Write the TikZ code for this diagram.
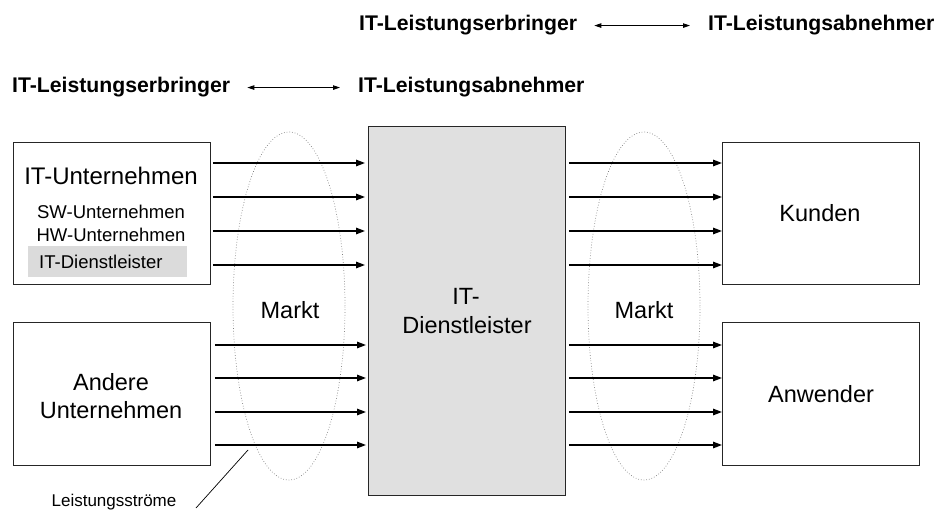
\documentclass[tikz,border=0pt]{standalone}
\usepackage{fontspec}
\setmainfont{Liberation Sans}
\usetikzlibrary{arrows.meta,shapes.geometric}
\begin{document}
\begin{tikzpicture}[x=1pt,y=-1pt,
  box/.style={draw=black!85, line width=0.9pt, inner sep=0, anchor=north west},
  big/.style={font=\fontsize{23.5}{28}\selectfont, inner sep=0},
  mid/.style={font=\fontsize{18.5}{22}\selectfont, inner sep=0},
  head/.style={font=\fontsize{21.2}{25}\bfseries\selectfont, inner sep=0, anchor=base west},
  flow/.style={line width=1.4pt, -{Triangle[length=9pt,width=6.5pt]}},
  pair/.style={line width=0.9pt, {Triangle[length=7pt,width=4.5pt]}-{Triangle[length=7pt,width=4.5pt]}},
  market/.style={ellipse, draw=black!50, dotted, line width=0.7pt,
                 minimum width=112pt, minimum height=348pt, inner sep=0}
]
\useasboundingbox (0,0) rectangle (937,521);

% headings
\node[head] (e1) at (359,31) {IT-Leistungserbringer};
\node[head] (a1) at (708,31) {IT-Leistungsabnehmer};
\draw[pair, shorten <=17pt, shorten >=18pt] (e1.east) -- (a1.west);
\node[head] (e2) at (12,93) {IT-Leistungserbringer};
\node[head] (a2) at (358,93) {IT-Leistungsabnehmer};
\draw[pair, shorten <=17pt, shorten >=18pt] (e2.east) -- (a2.west);

% market ellipses
\node[market] (m1) at (289,306) {};
\node[market] (m2) at (644,306) {};
\node[big] at (290,310) {Markt};
\node[big] at (644,310) {Markt};

% boxes
\node[box, minimum width=197pt, minimum height=142pt] (itu) at (13,142) {};
\node[box, minimum width=197pt, minimum height=143pt] (and) at (13,322) {};
\node[box, fill=black!12, minimum width=197pt, minimum height=369pt] (dl) at (368,126) {};
\node[box, minimum width=197pt, minimum height=142pt] (kun) at (722,142) {};
\node[box, minimum width=197pt, minimum height=143pt] (anw) at (722,322) {};

% box contents
\node[big, font=\fontsize{24}{28}\selectfont] at (111,176) {IT-Unternehmen};
\node[mid] at (111,212) {SW-Unternehmen};
\node[mid] at (111,235) {HW-Unternehmen};
\node[fill=black!14, minimum width=159pt, minimum height=31pt, inner sep=0, anchor=north west] (dlsub) at (28,246) {};
\node[mid, anchor=west] at (39,262) {IT-Dienstleister};
\node[font=\fontsize{23.5}{28}\selectfont, inner sep=0, align=center] at (111,396) {Andere\\Unternehmen};
\node[big, anchor=base] at (466,305) {IT-};
\node[big, anchor=base] at (467,334) {Dienstleister};
\node[big, anchor=base] at (820,222) {Kunden};
\node[big, anchor=base] at (821,402) {Anwender};

% flows
\foreach \y in {163,197,231,265} {
  \draw[flow, shorten <=2pt, shorten >=3pt] (itu.east |- 0,\y) -- (dl.west |- 0,\y);
  \draw[flow, shorten <=3pt] (dl.east |- 0,\y) -- (kun.west |- 0,\y);
}
\foreach \y in {345,378,412,445} {
  \draw[flow, shorten <=4pt, shorten >=2pt] (and.east |- 0,\y) -- (dl.west |- 0,\y);
  \draw[flow, shorten <=3pt] (dl.east |- 0,\y) -- (anw.west |- 0,\y);
}

% label for the flows
\node[font=\fontsize{17}{20}\selectfont, inner sep=0] (ls) at (114,502) {Leistungsströme};
\coordinate (lsa) at (196,508);
\coordinate (lsb) at (248,450);
\draw[line width=0.7pt] (lsa) -- (lsb);
\end{tikzpicture}
\end{document}
